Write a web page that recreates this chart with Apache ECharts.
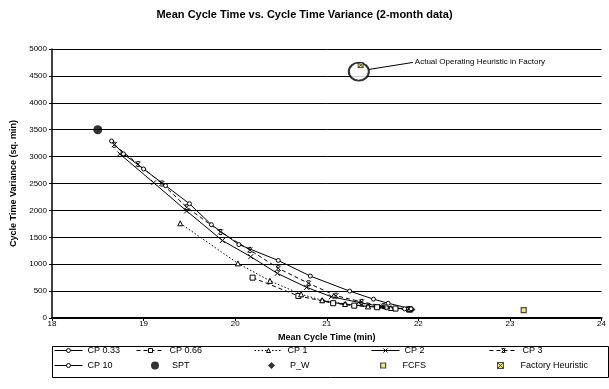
<!DOCTYPE html>
<html>
<head>
<meta charset="utf-8">
<script src="https://cdn.jsdelivr.net/npm/echarts@6/dist/echarts.min.js"></script>
<style>
  html, body { margin: 0; padding: 0; background: #fff; }
  #chart { width: 609px; height: 389px; }
</style>
</head>
<body>
<div id="chart"></div>
<script>
// Mean cycle time (min) vs cycle time variance (sq. min)
const cp033 = [[20.95, 320], [21.2, 255], [21.45, 215], [21.65, 190], [21.85, 170], [21.92, 160]];
const cp066 = [[20.19, 750], [20.69, 410], [21.07, 275], [21.3, 230], [21.55, 200], [21.75, 175], [21.9, 160]];
const cp1 = [[19.4, 1760], [20.03, 1015], [20.38, 690], [20.72, 440], [20.95, 330], [21.2, 260], [21.45, 215], [21.7, 185], [21.9, 160]];
const cp2 = [[18.74, 3050], [19.11, 2515], [19.47, 1990], [19.86, 1440], [20.17, 1140], [20.46, 830], [20.78, 570], [21.05, 395], [21.35, 290], [21.6, 210], [21.9, 165]];
const cp3 = [[18.68, 3220], [18.94, 2860], [19.2, 2500], [19.47, 2060], [19.84, 1600], [20.16, 1265], [20.47, 925], [20.8, 645], [21.1, 415], [21.38, 300], [21.62, 220], [21.9, 165]];
const cp10 = [[18.65, 3290], [18.78, 3050], [19.0, 2770], [19.24, 2460], [19.5, 2125], [19.74, 1735], [20.04, 1365], [20.47, 1070], [20.82, 780], [21.25, 500], [21.51, 350], [21.67, 275], [21.92, 170]];
const spt = [[18.5, 3500]];
const pw = [[21.93, 160]];
const fcfs = [[23.15, 145]];
const factory = [[21.37, 4700]];

// annotation: circle round the factory point, arrow to the note
const noteCircle = [[21.35, 4580]];
const noteArrow = [[21.46, 4620], [21.94, 4750]];
const noteText = 'Actual Operating Heuristic in Factory';

const xTicks = { min: 18, max: 24, interval: 1 };
const yTicks = { min: 0, max: 5000, interval: 500 };

const FONT = 'Liberation Sans';
const crossPath = 'path://M0,0L10,10M10,0L0,10';
const starPath = 'path://M0,0L10,10M10,0L0,10M2,0L8,0M2,10L8,10';
const boxCrossPath = 'path://M0,0L10,0L10,10L0,10ZM0,0L10,10M10,0L0,10';
const heurFill = '#e8e070';
const hollow = { color: '#fff', borderColor: '#000', borderWidth: 1 };

// Excel-style legend box: 5 columns x 2 rows, one legend per entry so the columns line up
const ROW1 = 346, ROW2 = 361;
const legendItems = [
  { name: 'CP 0.33', left: 54, top: ROW1, style: hollow },
  { name: 'CP 0.66', left: 136, top: ROW1, style: hollow },
  { name: 'CP 1', left: 254, top: ROW1, style: hollow },
  { name: 'CP 2', left: 371, top: ROW1, style: hollow },
  { name: 'CP 3', left: 489, top: ROW1, style: hollow },
  { name: 'CP 10', left: 54, top: ROW2, style: hollow },
  { name: 'SPT', left: 151, top: ROW2, w: 8, h: 8, icon: 'circle', pad: 8, style: { color: '#000' } },
  { name: 'P_W', left: 268, top: ROW2, w: 7, h: 7, icon: 'diamond', pad: 10, style: { color: '#000' } },
  { name: 'FCFS', left: 380, top: ROW2, w: 5, h: 5, icon: 'rect', pad: 12, style: { color: heurFill, borderColor: '#222', borderWidth: 1.2 } },
  { name: 'Factory Heuristic', left: 497, top: ROW2, w: 6, h: 6, icon: boxCrossPath, pad: 12, style: { color: heurFill, borderColor: '#222', borderWidth: 1 } },
];

const legends = legendItems.map((it) => ({
  left: it.left,
  top: it.top,
  padding: 0,
  itemWidth: it.w || 28,
  itemHeight: it.h || 5,
  symbolKeepAspect: true,
  lineStyle: { width: 1 },
  itemStyle: it.style,
  textStyle: { fontFamily: FONT, fontSize: 9, color: '#000', padding: [0, 0, 0, it.pad || 0] },
  data: [it.icon ? { name: it.name, icon: it.icon } : it.name],
}));

function lineSeries(name, data, dash, symbol, size) {
  return {
    name,
    type: 'line',
    data,
    symbol,
    symbolSize: size,
    lineStyle: { color: '#000', width: 1, type: dash },
    itemStyle: hollow,
    emphasis: { disabled: true },
    z: 3,
  };
}

const chart = echarts.init(document.getElementById('chart'));

chart.setOption({
  animation: false,
  textStyle: { fontFamily: FONT },
  title: {
    text: 'Mean Cycle Time vs. Cycle Time Variance (2-month data)',
    left: 'center',
    top: 4,
    textStyle: { fontFamily: FONT, fontSize: 11, fontWeight: 'bold', color: '#000' },
  },
  grid: { left: 52, right: 2, top: 49, bottom: 71, containLabel: false },
  xAxis: {
    type: 'value',
    ...xTicks,
    name: 'Mean Cycle Time (min)',
    nameLocation: 'middle',
    nameGap: 14,
    nameTextStyle: { fontFamily: FONT, fontSize: 9, fontWeight: 'bold', color: '#000' },
    axisLine: { lineStyle: { color: '#000', width: 2 } },
    axisTick: { show: true, length: 3, lineStyle: { color: '#000' } },
    axisLabel: { fontFamily: FONT, fontSize: 8, color: '#000', margin: 2 },
    splitLine: { show: false },
  },
  yAxis: {
    type: 'value',
    ...yTicks,
    name: 'Cycle Time Variance (sq. min)',
    nameLocation: 'middle',
    nameGap: 30,
    nameTextStyle: { fontFamily: FONT, fontSize: 9, fontWeight: 'bold', color: '#000' },
    axisLine: { show: true, lineStyle: { color: '#000', width: 1.5 } },
    axisTick: { show: true, length: 3, lineStyle: { color: '#000' } },
    axisLabel: { fontFamily: FONT, fontSize: 8, color: '#000', margin: 5, formatter: (v) => String(v) },
    splitLine: { show: true, lineStyle: { color: '#000', width: 1 } },
  },
  legend: legends,
  graphic: [{
    type: 'rect',
    left: 50,
    top: 344,
    shape: { width: 556, height: 31 },
    style: { fill: 'none', stroke: '#000', lineWidth: 1 },
    silent: true,
  }],
  series: [
    lineSeries('CP 0.33', cp033, 'solid', 'circle', 4),
    lineSeries('CP 0.66', cp066, [4, 3], 'rect', 5),
    lineSeries('CP 1', cp1, [1.5, 2], 'triangle', 5),
    lineSeries('CP 2', cp2, 'solid', crossPath, 5),
    lineSeries('CP 3', cp3, [4, 3], starPath, 5),
    lineSeries('CP 10', cp10, 'solid', 'circle', 4),
    {
      name: 'SPT', type: 'scatter', data: spt, symbol: 'circle', symbolSize: 9,
      itemStyle: { color: '#000' }, emphasis: { disabled: true },
    },
    {
      name: 'P_W', type: 'scatter', data: pw, symbol: 'diamond', symbolSize: 7,
      itemStyle: { color: '#000' }, emphasis: { disabled: true },
    },
    {
      name: 'FCFS', type: 'scatter', data: fcfs, symbol: 'rect', symbolSize: 5,
      itemStyle: { color: heurFill, borderColor: '#222', borderWidth: 1.2 },
      emphasis: { disabled: true },
    },
    {
      name: 'Factory Heuristic', type: 'scatter', data: factory, symbol: boxCrossPath, symbolSize: 5,
      itemStyle: { color: heurFill, borderColor: '#222', borderWidth: 1 },
      emphasis: { disabled: true },
      markLine: {
        silent: true,
        symbol: ['none', 'arrow'],
        symbolSize: [0, 5],
        lineStyle: { color: '#000', width: 1, type: 'solid' },
        label: {
          show: true, position: 'end', formatter: noteText,
          fontFamily: FONT, fontSize: 8, color: '#000', distance: 2,
        },
        data: [[{ coord: noteArrow[0] }, { coord: noteArrow[1] }]],
      },
    },
    {
      name: 'note', type: 'scatter', data: noteCircle, symbol: 'emptyCircle', symbolSize: [20, 18],
      itemStyle: { color: '#000', borderColor: '#000', borderWidth: 1 },
      silent: true, z: 1,
    },
  ],
});
</script>
</body>
</html>
